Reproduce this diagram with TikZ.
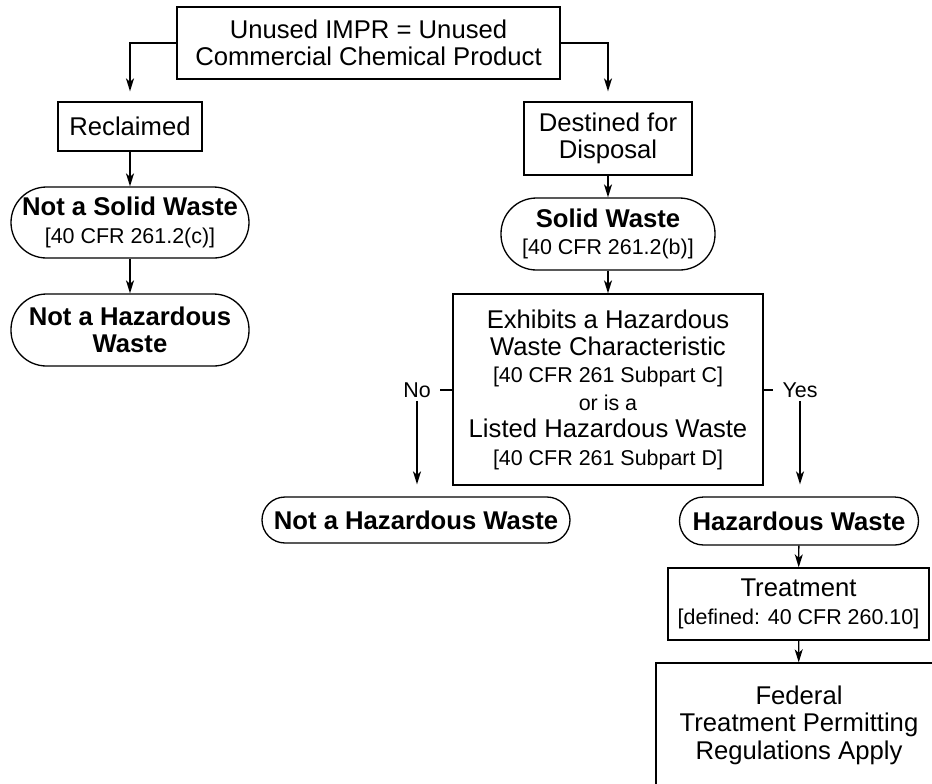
\documentclass[tikz,border=0pt]{standalone}
\usepackage{fontspec}
\setmainfont{Liberation Sans}
\usetikzlibrary{arrows.meta}

\newcommand{\cfr}{\fontsize{12.2}{13.2}\selectfont\mdseries}

\begin{document}
\begin{tikzpicture}[
    box/.style={
        draw,
        line width=0.75pt,
        inner sep=0pt,
        align=center,
        font=\fontsize{14.6}{15.6}\selectfont
    },
    oval/.style={
        box,
        rounded corners=0.71cm,
        font=\fontsize{14.6}{15.6}\selectfont\bfseries
    },
    answer/.style={
        font=\cfr,
        inner xsep=0.18cm,
        inner ysep=0.06cm
    },
    arrow/.style={
        -{Stealth[length=0.26cm,width=0.16cm,inset=0.07cm]},
        line width=0.75pt
    }
]
    \useasboundingbox (0,0) rectangle (18.64,-15.66);
    \clip (0,0) rectangle (18.64,-15.66);

    \node[box, minimum width=7.66cm, minimum height=1.44cm] (impr) at (7.37, -0.86) {Unused IMPR = Unused\\Commercial Chemical Product};
    \node[box, minimum width=2.88cm, minimum height=0.98cm] (recl) at (2.60, -2.53) {Reclaimed};
    \node[oval, minimum width=4.76cm, minimum height=1.42cm] (nsw) at (2.60, -4.45) {Not a Solid Waste\\{\cfr [40 CFR 261.2(c)]}};
    \node[oval, minimum width=4.76cm, minimum height=1.44cm] (nhwleft) at (2.60, -6.60) {Not a Hazardous\\Waste};
    \node[box, minimum width=3.36cm, minimum height=1.46cm] (dest) at (12.16, -2.77) {Destined for\\Disposal};
    \node[oval, minimum width=4.28cm, minimum height=1.44cm] (sw) at (12.16, -4.68) {Solid Waste\\{\cfr [40 CFR 261.2(b)]}};
    \node[box, minimum width=6.20cm, minimum height=3.82cm] (exh) at (12.16, -7.79) {Exhibits a Hazardous\\Waste Characteristic\\{\cfr [40 CFR 261 Subpart C]}\\{\cfr or is a}\\Listed Hazardous Waste\\{\cfr [40 CFR 261 Subpart D]}};
    \node[oval, rounded corners=0.46cm, minimum width=6.16cm, minimum height=0.92cm] (nhw) at (8.32, -10.40) {Not a Hazardous Waste};
    \node[oval, rounded corners=0.48cm, minimum width=4.78cm, minimum height=0.96cm] (hw) at (15.98, -10.42) {Hazardous Waste};
    \node[box, minimum width=5.22cm, minimum height=1.44cm] (treat) at (15.97, -12.08) {Treatment\\{\cfr [defined: 40 CFR 260.10]}};
    \node[box, minimum width=5.72cm, minimum height=2.48cm] (fed) at (15.98, -14.50) {Federal\\Treatment Permitting\\Regulations Apply};
    \node[answer] (no) at (8.34, -7.80) {No};
    \node[answer] (yes) at (16.00, -7.80) {Yes};

    \draw[arrow, shorten >=0.2cm] (impr.west) -| (recl.north);
    \draw[arrow, shorten >=0.2cm] (impr.east) -| (dest.north);
    \draw[arrow] (recl) -- (nsw);
    \draw[arrow] (nsw) -- (nhwleft);
    \draw[arrow] (dest) -- (sw);
    \draw[arrow] (sw) -- (exh);
    \draw[line width=0.75pt] (exh.west |- no.east) -- (no.east);
    \draw[arrow, shorten >=0.24cm] (no.south) -- (no.south |- nhw.north);
    \draw[line width=0.75pt] (exh.east |- yes.west) -- (yes.west);
    \draw[arrow, shorten >=0.24cm] (yes.south) -- (yes.south |- hw.north);
    \draw[arrow] (hw) -- (treat);
    \draw[arrow] (treat) -- (fed);
\end{tikzpicture}
\end{document}
